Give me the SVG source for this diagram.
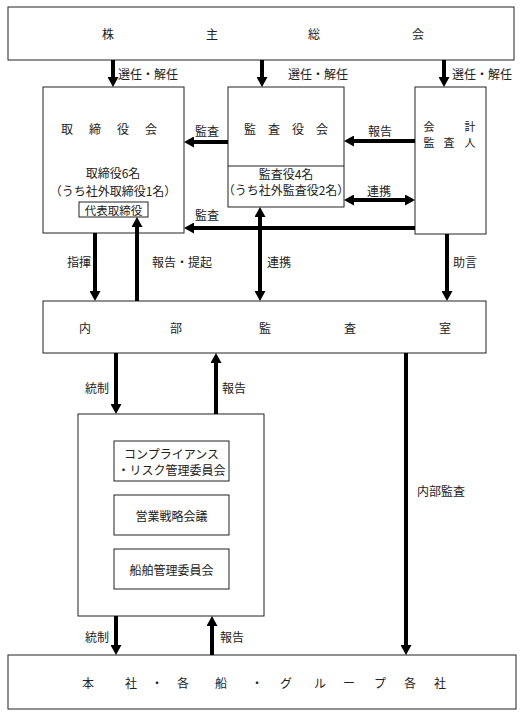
<svg xmlns="http://www.w3.org/2000/svg" width="528" height="717" viewBox="0 0 528 717">
<style>
.box{fill:#fff;stroke:#222;stroke-width:1}
.t{font-family:"Noto Sans CJK JP","Noto Sans CJK SC",sans-serif;font-size:12px;fill:#222;text-anchor:middle;dominant-baseline:central}
.l{font-family:"Noto Sans CJK JP","Noto Sans CJK SC",sans-serif;font-size:12px;fill:#222;dominant-baseline:central}
.a{stroke:#000;stroke-width:4;fill:none}
</style>
<defs>
<marker id="ah" viewBox="0 0 10 11" refX="0" refY="5.5" markerWidth="10" markerHeight="11" markerUnits="userSpaceOnUse" orient="auto-start-reverse">
<path d="M0,0 L10,5.5 L0,11 z" fill="#000"/>
</marker>
</defs>
<rect width="528" height="717" fill="#fff"/>
<g id="shareholders">
<rect class="box" x="8" y="7" width="506" height="53"/>
<text class="t" y="33"><tspan x="108">株</tspan><tspan x="212">主</tspan><tspan x="314">総</tspan><tspan x="418">会</tspan></text>
</g>
<g id="board">
<rect class="box" x="43" y="87" width="141" height="146"/>
<text class="t" y="128"><tspan x="67">取</tspan><tspan x="95">締</tspan><tspan x="123">役</tspan><tspan x="151">会</tspan></text>
<text class="t" x="113" y="172">取締役6名</text>
<text class="t" x="113" y="190">（うち社外取締役1名）</text>
</g>
<g id="representative">
<rect class="box" x="79" y="202" width="69" height="15"/>
<text class="t" x="113.5" y="209.5" style="font-size:11.5px">代表取締役</text>
</g>
<g id="auditors">
<rect class="box" x="228" y="87" width="116" height="120"/>
<line class="box" x1="228" y1="166" x2="344" y2="166"/>
<text class="t" y="128"><tspan x="250">監</tspan><tspan x="274">査</tspan><tspan x="298">役</tspan><tspan x="322">会</tspan></text>
<text class="t" x="286" y="173">監査役4名</text>
<text class="t" x="286" y="189">（うち社外監査役2名）</text>
</g>
<g id="accounting-auditor">
<rect class="box" x="415" y="87" width="71" height="147"/>
<text class="t" y="126" style="font-size:11px"><tspan x="429">会</tspan><tspan x="470">計</tspan></text>
<text class="t" y="142" style="font-size:11px"><tspan x="429">監</tspan><tspan x="449">査</tspan><tspan x="470">人</tspan></text>
</g>
<g id="internal-audit">
<rect class="box" x="43" y="301" width="443" height="52"/>
<text class="t" y="327"><tspan x="85">内</tspan><tspan x="176">部</tspan><tspan x="265">監</tspan><tspan x="350">査</tspan><tspan x="445">室</tspan></text>
</g>
<g id="committees">
<rect class="box" x="78" y="414" width="186" height="202"/>
</g>
<g id="compliance">
<rect class="box" x="114" y="441" width="115" height="40"/>
<text class="t" x="171.5" y="453">コンプライアンス</text>
<text class="t" x="171.5" y="469">・リスク管理委員会</text>
</g>
<g id="sales-strategy">
<rect class="box" x="114" y="495" width="115" height="40"/>
<text class="t" x="171.5" y="515">営業戦略会議</text>
</g>
<g id="ship-management">
<rect class="box" x="114" y="549" width="115" height="40"/>
<text class="t" x="171.5" y="569">船舶管理委員会</text>
</g>
<g id="group">
<rect class="box" x="8" y="655" width="508" height="54"/>
<text class="t" y="682"><tspan x="88">本</tspan><tspan x="131">社</tspan><tspan x="157">・</tspan><tspan x="183">各</tspan><tspan x="221">船</tspan><tspan x="257">・</tspan><tspan x="286">グ</tspan><tspan x="320">ル</tspan><tspan x="349">ー</tspan><tspan x="380">プ</tspan><tspan x="410">各</tspan><tspan x="440">社</tspan></text>
</g>
<g id="connectors">
<line class="a" x1="113" y1="60" x2="113" y2="77" marker-end="url(#ah)"/>
<line class="a" x1="262" y1="60" x2="262" y2="77" marker-end="url(#ah)"/>
<line class="a" x1="444" y1="60" x2="444" y2="77" marker-end="url(#ah)"/>
<line class="a" x1="228" y1="142" x2="194" y2="142" marker-end="url(#ah)"/>
<line class="a" x1="415" y1="141" x2="354" y2="141" marker-end="url(#ah)"/>
<line class="a" x1="354" y1="200" x2="405" y2="200" marker-start="url(#ah)" marker-end="url(#ah)"/>
<line class="a" x1="415" y1="228" x2="194" y2="228" marker-end="url(#ah)"/>
<line class="a" x1="95" y1="233" x2="95" y2="291" marker-end="url(#ah)"/>
<line class="a" x1="137" y1="301" x2="137" y2="227" marker-end="url(#ah)"/>
<line class="a" x1="260" y1="217" x2="260" y2="291" marker-start="url(#ah)" marker-end="url(#ah)"/>
<line class="a" x1="447" y1="234" x2="447" y2="291" marker-end="url(#ah)"/>
<line class="a" x1="116" y1="353" x2="116" y2="404" marker-end="url(#ah)"/>
<line class="a" x1="216" y1="414" x2="216" y2="363" marker-end="url(#ah)"/>
<line class="a" x1="116" y1="616" x2="116" y2="645" marker-end="url(#ah)"/>
<line class="a" x1="212" y1="655" x2="212" y2="626" marker-end="url(#ah)"/>
<line class="a" x1="406" y1="353" x2="406" y2="645" marker-end="url(#ah)"/>
<text class="l" x="118" y="73">選任・解任</text>
<text class="l" x="288" y="73">選任・解任</text>
<text class="l" x="452" y="73">選任・解任</text>
<text class="l" x="195" y="130">監査</text>
<text class="l" x="368" y="130">報告</text>
<text class="l" x="367" y="190">連携</text>
<text class="l" x="195" y="214">監査</text>
<text class="l" x="67" y="261">指揮</text>
<text class="l" x="152" y="261">報告・提起</text>
<text class="l" x="267" y="261">連携</text>
<text class="l" x="453" y="261">助言</text>
<text class="l" x="85" y="387">統制</text>
<text class="l" x="222" y="387">報告</text>
<text class="l" x="417" y="490">内部監査</text>
<text class="l" x="85" y="636">統制</text>
<text class="l" x="220" y="636">報告</text>
</g>
</svg>
